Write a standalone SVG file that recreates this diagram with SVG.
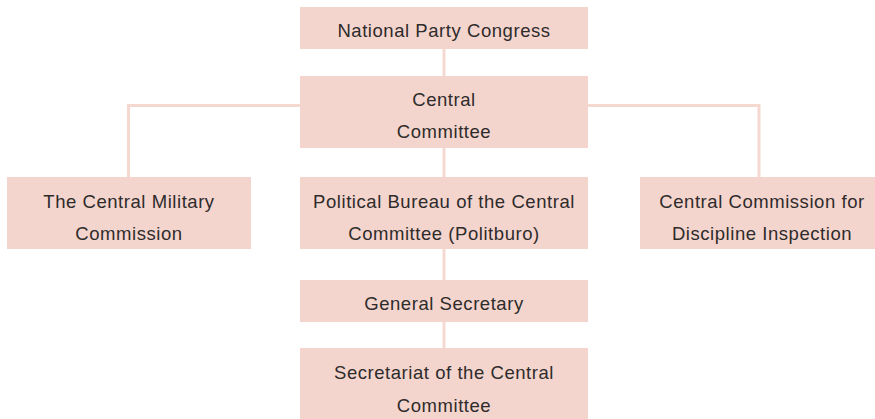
<svg xmlns="http://www.w3.org/2000/svg" width="875" height="419" viewBox="0 0 875 419">
  <style>
    .box { fill: #f4d5cd; }
    .label { font-family: "Liberation Sans", Arial, sans-serif; font-size: 18.5px; fill: #2e2b2b; text-anchor: middle; letter-spacing: 0.55px; }
    .link { fill: none; stroke: #f5d8d0; stroke-width: 3; }
  </style>
  <rect width="875" height="419" fill="#ffffff"/>

  <!-- connectors -->
  <g id="connectors">
    <path class="link" d="M444 49 V76"/>
    <path class="link" d="M444 148 V177"/>
    <path class="link" d="M300 105.5 H128.5 V177"/>
    <path class="link" d="M588 105.5 H759 V177"/>
    <path class="link" d="M444 249 V280"/>
    <path class="link" d="M444 322 V348"/>
  </g>

  <g id="congress">
    <rect class="box" x="300" y="7" width="288" height="42"/>
    <text class="label" x="444" y="36.5">National Party Congress</text>
  </g>

  <g id="central-committee">
    <rect class="box" x="300" y="76" width="288" height="72"/>
    <text class="label" x="444" y="106">Central</text>
    <text class="label" x="444" y="138">Committee</text>
  </g>

  <g id="military-commission">
    <rect class="box" x="7" y="177" width="244" height="72"/>
    <text class="label" x="129" y="208">The Central Military</text>
    <text class="label" x="129" y="240">Commission</text>
  </g>

  <g id="politburo">
    <rect class="box" x="300" y="177" width="288" height="72"/>
    <text class="label" x="444" y="208">Political Bureau of the Central</text>
    <text class="label" x="444" y="240">Committee (Politburo)</text>
  </g>

  <g id="discipline-commission">
    <rect class="box" x="640" y="177" width="235" height="72"/>
    <text class="label" x="762" y="208">Central Commission for</text>
    <text class="label" x="762" y="240">Discipline Inspection</text>
  </g>

  <g id="general-secretary">
    <rect class="box" x="300" y="280" width="288" height="42"/>
    <text class="label" x="444" y="310">General Secretary</text>
  </g>

  <g id="secretariat">
    <rect class="box" x="300" y="348" width="288" height="71"/>
    <text class="label" x="444" y="379">Secretariat of the Central</text>
    <text class="label" x="444" y="412">Committee</text>
  </g>
</svg>
